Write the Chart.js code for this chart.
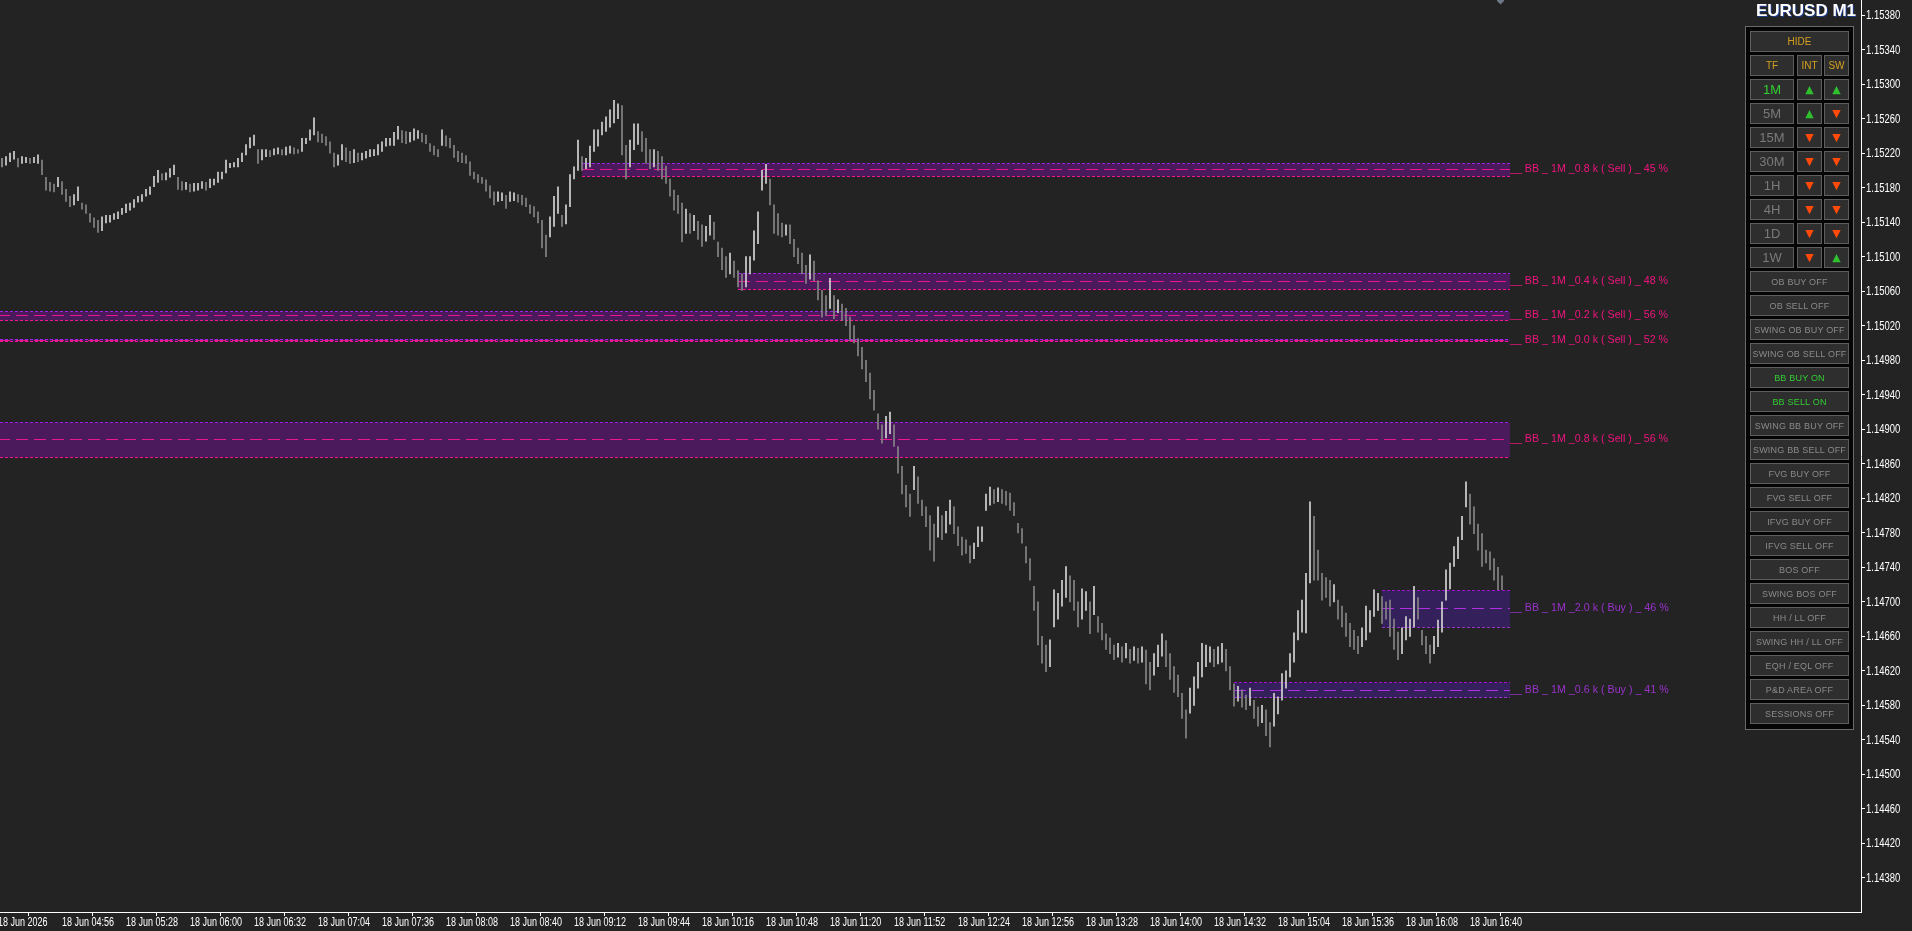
<!DOCTYPE html>
<html>
<head>
<meta charset="utf-8">
<script src="https://cdn.jsdelivr.net/npm/chart.js@4.4.1/dist/chart.umd.min.js"></script>
<style>
html,body{margin:0;padding:0;background:#232323;overflow:hidden;}
#wrap{position:relative;width:1912px;height:931px;}
#chart{position:absolute;left:0;top:0;}
#title{position:absolute;left:1740px;top:1px;width:116px;text-align:right;font:bold 17px 'Liberation Sans',Arial,sans-serif;color:#fff;text-shadow:1px 1px 0 #1e3c8c;}
#panel{position:absolute;left:1745px;top:26px;width:107px;height:702px;border:1px solid #6a6a6a;background:#050505;}
.btn{position:absolute;box-sizing:border-box;height:21px;background:#2e2e2e;border:1px solid #5e5e5e;color:#8a8a8a;font:9px 'Liberation Sans',sans-serif;display:flex;align-items:center;justify-content:center;white-space:nowrap;letter-spacing:0.2px;}
.btn.tf{font-size:13px;letter-spacing:0;}
.btn.head{font-size:10px;color:#d4a020;letter-spacing:0;}
.btn.arrow{font:11px 'DejaVu Sans',sans-serif;}
</style>
</head>
<body>
<div id="wrap">
  <canvas id="chart" width="1912" height="931"></canvas>
  <div id="title">EURUSD M1</div>
  <div id="panel"></div>
</div>
<script>
// Barras de 2 minutos, en puntos sobre 1.14000 (1204 = 1.15204)
const barHighPts = [1214,1216,1220,1222,1214,1216,1215,1214,1215,1218,
1212,1192,1186,1184,1192,1187,1178,1170,1172,1181,
1162,1160,1150,1145,1142,1146,1148,1148,1150,1152,
1156,1161,1162,1166,1170,1172,1178,1181,1193,1200,
1196,1197,1202,1206,1192,1187,1186,1184,1185,1185,
1187,1186,1190,1190,1198,1198,1212,1208,1209,1214,
1220,1230,1238,1241,1224,1224,1224,1223,1225,1226,
1224,1227,1228,1226,1224,1237,1237,1247,1261,1245,
1242,1239,1233,1220,1218,1230,1226,1222,1224,1220,
1220,1222,1224,1224,1230,1233,1237,1237,1244,1251,
1246,1245,1244,1248,1246,1243,1241,1231,1228,1224,
1247,1240,1237,1229,1222,1220,1217,1210,1198,1195,
1192,1189,1182,1175,1175,1174,1171,1175,1174,1172,
1171,1168,1160,1158,1152,1142,1125,1146,1170,1181,
1148,1160,1195,1204,1235,1216,1214,1228,1247,1247,
1256,1262,1270,1281,1277,1275,1229,1235,1254,1254,
1245,1237,1224,1224,1222,1216,1205,1190,1177,1171,
1162,1155,1150,1148,1141,1137,1135,1148,1140,1117,
1110,1100,1104,1095,1084,1080,1100,1100,1130,1152,
1200,1207,1190,1160,1150,1139,1137,1137,1120,1110,
1104,1090,1102,1095,1072,1061,1055,1075,1055,1050,
1045,1040,1030,1020,1005,995,980,965,945,918,
905,915,920,905,880,857,835,825,857,845,
818,810,800,790,810,800,805,818,810,787,
775,772,765,768,787,787,825,833,830,832,
830,828,826,815,791,785,764,750,718,700,
660,650,656,714,710,725,741,730,725,700,
715,712,700,718,683,675,663,658,650,652,
648,652,645,648,646,648,644,630,640,650,
663,655,640,625,615,594,575,600,613,630,
652,650,648,645,648,652,645,625,605,602,
598,592,600,586,578,580,575,560,594,590,
617,620,640,664,690,702,733,816,799,760,
733,728,725,720,702,695,687,675,667,660,
670,695,690,714,710,706,700,702,680,665,
670,683,680,718,705,667,660,650,660,679,
700,737,745,764,775,799,839,825,810,790,
779,760,758,750,740,730];
const barLowPts = [1204,1206,1210,1213,1204,1208,1209,1208,1209,1208,
1195,1177,1176,1175,1181,1172,1164,1158,1160,1165,
1155,1150,1140,1134,1128,1130,1139,1140,1143,1144,
1149,1151,1154,1157,1163,1164,1170,1172,1181,1186,
1189,1189,1192,1195,1178,1177,1178,1175,1176,1177,
1179,1177,1180,1183,1186,1190,1197,1203,1204,1204,
1210,1218,1226,1229,1208,1212,1216,1216,1218,1219,
1218,1218,1220,1219,1220,1222,1231,1235,1241,1233,
1232,1229,1220,1204,1206,1212,1210,1208,1209,1210,
1212,1214,1216,1217,1218,1222,1228,1229,1229,1236,
1232,1231,1233,1235,1237,1233,1231,1222,1218,1216,
1229,1228,1226,1215,1210,1209,1208,1194,1190,1186,
1185,1176,1168,1160,1164,1165,1156,1164,1165,1163,
1160,1158,1150,1146,1139,1110,1100,1123,1135,1150,
1135,1138,1158,1190,1200,1200,1202,1204,1222,1228,
1241,1245,1250,1255,1260,1218,1190,1204,1224,1230,
1222,1208,1202,1204,1200,1190,1185,1170,1154,1150,
1117,1127,1127,1130,1120,1112,1118,1125,1120,1100,
1085,1076,1080,1076,1065,1061,1065,1080,1096,1115,
1177,1185,1160,1127,1125,1123,1125,1115,1100,1092,
1080,1069,1074,1072,1050,1030,1032,1040,1028,1035,
1026,1020,1003,1000,985,970,955,935,922,900,
884,890,895,880,849,825,810,799,830,814,
800,787,760,747,775,772,780,790,779,765,
754,756,745,750,764,770,806,812,814,816,
814,812,806,800,780,768,745,725,690,650,
629,619,625,671,680,695,705,700,690,671,
680,690,663,685,665,656,645,640,633,636,
630,635,629,632,629,630,605,598,615,625,
637,625,610,595,590,565,542,571,580,600,
613,625,630,625,628,630,620,598,579,585,
578,575,580,565,556,560,545,532,556,570,
586,600,613,630,656,665,664,722,725,725,
702,705,695,700,680,671,660,648,645,640,
648,656,665,683,690,675,680,660,645,633,
640,656,660,671,680,650,640,629,640,648,
665,702,715,741,750,772,810,790,779,760,
741,745,737,725,714,714];

// Etiquetas del eje de tiempo (cada 32 minutos, desde 04:24)
const timeLabels = ['18 Jun 2026','18 Jun 04:56','18 Jun 05:28','18 Jun 06:00','18 Jun 06:32',
  '18 Jun 07:04','18 Jun 07:36','18 Jun 08:08','18 Jun 08:40','18 Jun 09:12','18 Jun 09:44',
  '18 Jun 10:16','18 Jun 10:48','18 Jun 11:20','18 Jun 11:52','18 Jun 12:24','18 Jun 12:56',
  '18 Jun 13:28','18 Jun 14:00','18 Jun 14:32','18 Jun 15:04','18 Jun 15:36','18 Jun 16:08',
  '18 Jun 16:40'];
const priceTicks = [1.14380,1.14420,1.14460,1.14500,1.14540,1.14580,1.14620,1.14660,1.14700,
  1.14740,1.14780,1.14820,1.14860,1.14900,1.14940,1.14980,1.15020,1.15060,1.15100,1.15140,
  1.15180,1.15220,1.15260,1.15300,1.15340,1.15380];

// Zonas BB (puntos sobre 1.14000), inicio en minutos desde 04:26
const zoneTopPts    = [1208.2, 1080.7, 1036.7, 1004.9, 908.0, 713.4, 606.8];
const zoneMidPts    = [1201.2, 1071.4, 1032.0, 1003.6, 888.3, 692.5, 597.5];
const zoneBottomPts = [1193.1, 1062.2, 1026.6, 1002.3, 867.5, 670.5, 589.7];
const zoneStartMin  = [291, 369, -10, -10, -10, 691, 617];
const zoneEndMin = 755;
const zoneSide   = ['Sell','Sell','Sell','Sell','Sell','Buy','Buy'];
const zoneLabels = ['__ BB _ 1M _0.8 k ( Sell ) _ 45 %','__ BB _ 1M _0.4 k ( Sell ) _ 48 %',
  '__ BB _ 1M _0.2 k ( Sell ) _ 56 %','__ BB _ 1M _0.0 k ( Sell ) _ 52 %',
  '__ BB _ 1M _0.8 k ( Sell ) _ 56 %','__ BB _ 1M _2.0 k ( Buy ) _ 46 %',
  '__ BB _ 1M _0.6 k ( Buy ) _ 41 %'];
const lastBarMin = 750;

// Panel
const tfRows = ['1M','5M','15M','30M','1H','4H','1D','1W'];
const intDir = ['up','up','down','down','down','down','down','down'];
const swDir  = ['up','down','down','down','down','down','down','up'];
const toggles = ['OB BUY OFF','OB SELL OFF','SWING OB BUY OFF','SWING OB SELL OFF','BB BUY ON',
  'BB SELL ON','SWING BB BUY OFF','SWING BB SELL OFF','FVG BUY OFF','FVG SELL OFF','IFVG BUY OFF',
  'IFVG SELL OFF','BOS OFF','SWING BOS OFF','HH / LL OFF','SWING HH / LL OFF','EQH / EQL OFF',
  'P&D AREA OFF','SESSIONS OFF'];

const toPrice = p => 1.14 + p / 1e5;

// ---- panel ----
const panel = document.getElementById('panel');
function addBtn(txt, left, top, width, cls, color){
  const d = document.createElement('div');
  d.className = 'btn ' + (cls || '');
  d.style.left = left + 'px'; d.style.top = top + 'px'; d.style.width = width + 'px';
  if (color) d.style.color = color;
  d.textContent = txt;
  panel.appendChild(d);
}
let row = 0;
const rowTop = r => 4 + r * 24;
addBtn('HIDE', 4, rowTop(row++), 99, 'head');
addBtn('TF', 4, rowTop(row), 44, 'head');
addBtn('INT', 51, rowTop(row), 25, 'head');
addBtn('SW', 78, rowTop(row++), 25, 'head');
const arrow = d => d === 'up' ? ['\u25B2', '#2fbf2f'] : ['\u25BC', '#ff4a0a'];
tfRows.forEach((tf, i) => {
  addBtn(tf, 4, rowTop(row), 44, 'tf', i === 0 ? '#33cc33' : '#7a7a7a');
  const a = arrow(intDir[i]), b = arrow(swDir[i]);
  addBtn(a[0], 51, rowTop(row), 25, 'arrow', a[1]);
  addBtn(b[0], 78, rowTop(row++), 25, 'arrow', b[1]);
});
toggles.forEach(t => {
  addBtn(t, 4, rowTop(row++), 99, '', t.endsWith(' ON') ? '#33cc33' : '#8a8a8a');
});

// ---- chart ----
const bars = barHighPts.map((h, k) => ({x: 2 * k + 1, y: [toPrice(barLowPts[k]), toPrice(h)]}));
const barColors = barHighPts.map((h, k) => {
  if (k === 0) return '#9a9a9a';
  const m = h + barLowPts[k], pm = barHighPts[k - 1] + barLowPts[k - 1];
  return m >= pm ? '#d4d4d4' : '#858585';
});

const zonePlugin = {
  id: 'zones',
  beforeDatasetsDraw(chart){
    const {ctx, chartArea: a, scales: {x, y}} = chart;
    ctx.save();
    ctx.beginPath(); ctx.rect(a.left, a.top, a.right - a.left, a.bottom - a.top); ctx.clip();
    zoneTopPts.forEach((t, i) => {
      const sell = zoneSide[i] === 'Sell';
      const x0 = Math.round(x.getPixelForValue(zoneStartMin[i]));
      const x1 = Math.round(x.getPixelForValue(zoneEndMin));
      const yT = Math.round(y.getPixelForValue(toPrice(t))) + 0.5;
      const yM = Math.round(y.getPixelForValue(toPrice(zoneMidPts[i]))) + 0.5;
      const yB = Math.round(y.getPixelForValue(toPrice(zoneBottomPts[i]))) + 0.5;
      ctx.fillStyle = sell ? '#4b1a5c' : '#34205a';
      ctx.fillRect(x0, yT, x1 - x0, yB - yT);
      ctx.lineWidth = 1;
      ctx.setLineDash([3, 2]);
      ctx.strokeStyle = sell ? '#a020f0' : '#a010d8';
      ctx.beginPath(); ctx.moveTo(x0, yT); ctx.lineTo(x1, yT); ctx.stroke();
      ctx.strokeStyle = sell ? '#ff1493' : '#9932cc';
      ctx.beginPath(); ctx.moveTo(x0, yB); ctx.lineTo(x1, yB); ctx.stroke();
      ctx.setLineDash([12, 6]);
      ctx.strokeStyle = sell ? '#e6198c' : '#b030e0';
      ctx.beginPath(); ctx.moveTo(x0, yM); ctx.lineTo(x1, yM); ctx.stroke();
    });
    ctx.restore();
  },
  afterDatasetsDraw(chart){
    const {ctx, scales: {x, y}} = chart;
    ctx.save();
    ctx.font = "11.5px 'Liberation Sans', Arial, sans-serif";
    ctx.textBaseline = 'middle';
    ctx.textAlign = 'left';
    zoneLabels.forEach((lbl, i) => {
      ctx.fillStyle = zoneSide[i] === 'Sell' ? '#f0147f' : '#9932cc';
      const x1 = Math.round(x.getPixelForValue(zoneEndMin));
      const yM = Math.round(y.getPixelForValue(toPrice(zoneMidPts[i])));
      ctx.save(); ctx.translate(x1, yM); ctx.scale(0.93, 1);
      ctx.fillText(lbl, 0, 0); ctx.restore();
    });
    // marcador gris del último bar en el borde superior
    const mx = Math.round(x.getPixelForValue(lastBarMin)) + 0.5;
    ctx.fillStyle = '#6c7886';
    ctx.beginPath();
    ctx.moveTo(mx - 3.5, 0); ctx.lineTo(mx + 3.5, 0); ctx.lineTo(mx + 3.5, 1);
    ctx.lineTo(mx, 4.5); ctx.lineTo(mx - 3.5, 1); ctx.closePath(); ctx.fill();
    ctx.restore();
  }
};

// etiquetas de ejes con letra estrecha (escala horizontal)
const axisLabelPlugin = {
  id: 'axisLabels',
  afterDraw(chart){
    const {ctx, chartArea: a, scales: {x, y}} = chart;
    ctx.save();
    ctx.fillStyle = '#ffffff';
    ctx.font = "12px 'Liberation Sans', Arial, sans-serif";
    ctx.textAlign = 'left';
    ctx.textBaseline = 'top';
    const sx = 0.75;
    x.ticks.forEach((t, i) => {
      const px = x.getPixelForValue(t.value) + 2;
      ctx.save(); ctx.translate(px, a.bottom + 5); ctx.scale(sx, 1);
      ctx.fillText(timeLabels[i], 0, 0); ctx.restore();
    });
    ctx.textBaseline = 'middle';
    const sy = 0.79;
    priceTicks.forEach(v => {
      const py = Math.round(y.getPixelForValue(v));
      ctx.save(); ctx.translate(a.right + 5, py + 0.5); ctx.scale(sy, 1);
      ctx.fillText(v.toFixed(5), 0, 0); ctx.restore();
    });
    ctx.restore();
  }
};

new Chart(document.getElementById('chart'), {
  type: 'bar',
  data: {
    datasets: [{
      data: bars,
      backgroundColor: barColors,
      borderWidth: 0,
      barThickness: 1
    }]
  },
  plugins: [zonePlugin, axisLabelPlugin],
  options: {
    responsive: false,
    devicePixelRatio: 1,
    animation: false,
    events: [],
    layout: {padding: 0},
    plugins: {legend: {display: false}, tooltip: {enabled: false}},
    scales: {
      x: {
        type: 'linear', position: 'bottom', min: 0, max: 930.5, offset: false,
        afterBuildTicks: s => { s.ticks = timeLabels.map((_, i) => ({value: -2 + 32 * i})); },
        afterFit: s => { s.height = 19; s.paddingLeft = 0; s.paddingRight = 0; },
        ticks: {display: false, autoSkip: false, maxRotation: 0},
        grid: {drawOnChartArea: false, drawTicks: true, tickLength: 4, color: '#ffffff'},
        border: {display: true, color: '#ffffff', width: 1}
      },
      y: {
        type: 'linear', position: 'right', min: 1.143406, max: 1.153974,
        afterBuildTicks: s => { s.ticks = priceTicks.map(v => ({value: v})); },
        afterFit: s => { s.width = 51; s.paddingTop = 0; s.paddingBottom = 0; },
        ticks: {display: false},
        grid: {drawOnChartArea: false, drawTicks: true, tickLength: 4, color: '#ffffff'},
        border: {display: true, color: '#ffffff', width: 1}
      }
    }
  }
});
</script>
</body>
</html>
